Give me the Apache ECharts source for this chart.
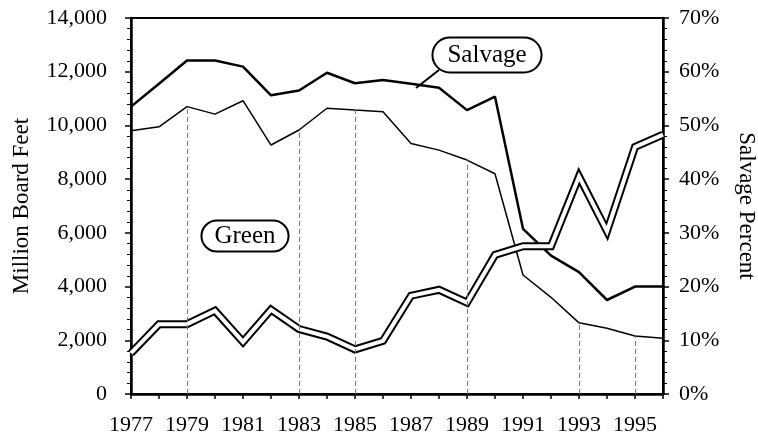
<!DOCTYPE html>
<html>
<head>
<meta charset="utf-8">
<script src="https://cdn.jsdelivr.net/npm/echarts@6/dist/echarts.min.js"></script>
<style>
  html, body { margin: 0; padding: 0; background: #fff; }
  #chart { width: 758px; height: 439px; }
</style>
</head>
<body>
<div id="chart"></div>
<script>
var years = ['1977', '1978', '1979', '1980', '1981', '1982', '1983', '1984', '1985', '1986',
             '1987', '1988', '1989', '1990', '1991', '1992', '1993', '1994', '1995', '1996'];
// total harvest (upper line), million board feet
var totalVolume = [10700, 11550, 12420, 12420, 12190, 11120, 11300, 11960, 11570, 11690,
                   11550, 11400, 10570, 11070, 6150, 5150, 4540, 3500, 4000, 4000];
// green (lower thin line)
var greenVolume = [9800, 9950, 10700, 10420, 10920, 9270, 9830, 10640, 10570, 10510,
                   9330, 9080, 8710, 8200, 4430, 3600, 2650, 2450, 2160, 2080];
// salvage percent (double line, right axis)
var salvagePercent = [7.6, 13.0, 13.0, 15.5, 9.7, 15.7, 12.1, 10.7, 8.3, 9.9,
                      18.3, 19.4, 17.0, 25.9, 27.5, 27.5, 40.5, 30.3, 46.0, 48.3];
// faint drop lines left in the scan
var dropYears = ['1979', '1983', '1985', '1989', '1993', '1995'];

var serif = "'Liberation Serif', 'Times New Roman', Times, serif";

var dropLines = dropYears.map(function (y) {
    var v = greenVolume[years.indexOf(y)];
    return [{ coord: [y, 0] }, { coord: [y, v] }];
});

var myChart = echarts.init(document.getElementById('chart'));
var option = {
    backgroundColor: '#fff',
    animation: false,
    grid: {
        left: 131, right: 95, top: 18, bottom: 45,
        outerBoundsMode: 'none', containLabel: false,
        show: true, borderColor: '#000', borderWidth: 2, backgroundColor: 'transparent'
    },
    xAxis: {
        type: 'category',
        data: years,
        boundaryGap: false,
        axisLine: { lineStyle: { color: '#000', width: 2.5 } },
        axisTick: { interval: 0, length: 5, lineStyle: { color: '#000', width: 1.5 } },
        axisLabel: {
            interval: 1, margin: 20, color: '#000',
            fontFamily: serif, fontSize: 22
        },
        splitLine: { show: false }
    },
    yAxis: [
        {
            type: 'value', min: 0, max: 14000, interval: 2000,
            name: 'Million Board Feet', nameLocation: 'middle', nameGap: 98,
            nameTextStyle: { color: '#000', fontFamily: serif, fontSize: 23 },
            axisLine: { show: true, lineStyle: { color: '#000', width: 2.5 } },
            axisTick: { show: true, length: 6, lineStyle: { color: '#000', width: 1.5 } },
            minorTick: { show: true, splitNumber: 5, length: 4, lineStyle: { color: '#000', width: 1 } },
            axisLabel: {
                margin: 24, color: '#000', fontFamily: serif, fontSize: 22,
                formatter: function (v) { return v.toLocaleString('en-US'); }
            },
            splitLine: { show: false }
        },
        {
            type: 'value', min: 0, max: 70, interval: 10,
            name: 'Salvage Percent', nameLocation: 'middle', nameGap: 72, nameRotate: -90,
            nameTextStyle: { color: '#000', fontFamily: serif, fontSize: 23 },
            axisLine: { show: true, lineStyle: { color: '#000', width: 2.5 } },
            axisTick: { show: true, length: 6, lineStyle: { color: '#000', width: 1.5 } },
            minorTick: { show: true, splitNumber: 5, length: 4, lineStyle: { color: '#000', width: 1 } },
            axisLabel: {
                margin: 16, color: '#000', fontFamily: serif, fontSize: 22,
                formatter: '{value}%'
            },
            splitLine: { show: false }
        }
    ],
    series: [
        {
            name: 'Total',
            type: 'line',
            data: totalVolume,
            symbol: 'none',
            lineStyle: { color: '#000', width: 2.5 },
            z: 2
        },
        {
            name: 'Green',
            type: 'line',
            data: greenVolume,
            symbol: 'none',
            lineStyle: { color: '#000', width: 1.5 },
            markLine: {
                silent: true,
                symbol: 'none',
                label: { show: false },
                lineStyle: { color: '#777', type: [5, 3], width: 1 },
                data: dropLines
            },
            z: 2
        },
        {
            name: 'Salvage % outer',
            type: 'line',
            yAxisIndex: 1,
            data: salvagePercent,
            symbol: 'none',
            lineStyle: { color: '#000', width: 8, join: 'miter' },
            z: 3
        },
        {
            name: 'Salvage % inner',
            type: 'line',
            yAxisIndex: 1,
            data: salvagePercent,
            symbol: 'none',
            lineStyle: { color: '#fff', width: 4, join: 'miter' },
            z: 4
        }
    ],
    graphic: [
        {
            type: 'line',
            shape: { x1: 439, y1: 70, x2: 416, y2: 88 },
            style: { stroke: '#000', lineWidth: 2 },
            z: 10
        },
        {
            type: 'text',
            x: 487, y: 55,
            style: {
                text: 'Salvage', align: 'center', verticalAlign: 'middle',
                font: "25px 'Liberation Serif', 'Times New Roman', serif", fill: '#000',
                backgroundColor: '#fff', borderColor: '#000', borderWidth: 2,
                borderRadius: 17, padding: [4, 14]
            },
            z: 11
        },
        {
            type: 'text',
            x: 245, y: 236,
            style: {
                text: 'Green', align: 'center', verticalAlign: 'middle',
                font: "25px 'Liberation Serif', 'Times New Roman', serif", fill: '#000',
                backgroundColor: '#fff', borderColor: '#000', borderWidth: 2,
                borderRadius: 15, padding: [2, 12]
            },
            z: 11
        }
    ]
};
myChart.setOption(option);
</script>
</body>
</html>
